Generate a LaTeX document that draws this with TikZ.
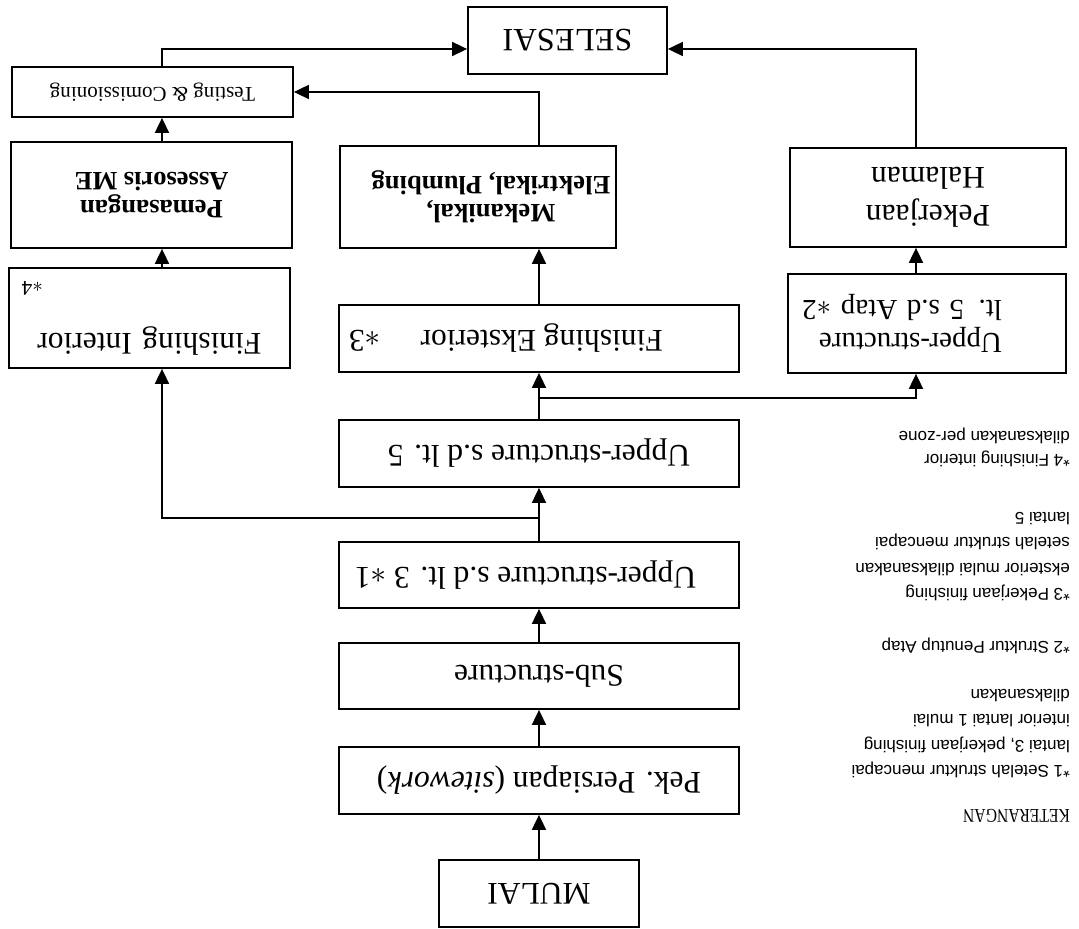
\RequirePackage{fix-cm}
\documentclass[tikz,border=0pt]{standalone}
\usepackage{fontspec}
\usepackage{graphicx}
\setmainfont{Liberation Serif}
\newfontfamily\notefont{Liberation Sans}
\usetikzlibrary{arrows.meta}
\begin{document}
\begin{tikzpicture}[x=1pt,y=1pt,
  box/.style={draw, line width=1.8pt, rectangle, inner sep=0pt, align=center,
    font=\fontsize{31.5}{36}\selectfont},
  arr/.style={line width=1.8pt, -{Triangle[length=15pt,width=14pt]}},
  note/.style={anchor=north west, inner sep=0pt, align=left,
    font=\notefont\fontsize{17}{25.5}\selectfont}]
% the whole sheet is printed upside down
\begin{scope}[rotate=180, transform shape]
\useasboundingbox (0,0) rectangle (1079,-929);

% main chain
\node[box, minimum width=200pt, minimum height=67pt] (mulai) at (540,-35.5) {MULAI};
\node[box, minimum width=400pt, minimum height=67pt] (prep) at (540,-148.5) {Pek. Persiapan (\textit{sitework})};
\node[box, minimum width=400pt, minimum height=66pt] (sub) at (540,-253) {Sub-structure};
\node[box, minimum width=400pt, minimum height=66pt] (up3) at (540,-354) {\hspace*{27pt}Upper-structure s.d lt. 3 $\ast$1};
\node[box, minimum width=400pt, minimum height=67pt] (up5) at (540,-475.5) {Upper-structure s.d lt. 5};
\node[box, minimum width=400pt, minimum height=67pt] (fe) at (540,-590.5) {\hspace*{66pt}Finishing Eksterior\hspace*{40pt}$\ast$3};

% side branches
\node[box, minimum width=281pt, minimum height=100pt, text width=255pt, inner xsep=13pt] (fi) at (929.5,-611)
  {Finishing Interior\\[16pt]\hfill{\fontsize{21}{21}\selectfont$\ast$4}};
\node[box, minimum width=278pt, minimum height=99pt, text width=266pt, inner xsep=6pt, align=left,
  font=\fontsize{29}{33}\selectfont] (atap) at (152,-605.5)
  {\hspace*{58pt}Upper-structure\\\hspace*{58pt}lt. 5 s.d Atap $\ast$2};
\node[box, minimum width=281pt, minimum height=106pt, font=\bfseries\fontsize{26.5}{28}\selectfont] (pem) at (927.5,-734)
  {Pemasangan\\Assesoris ME};
\node[box, minimum width=276pt, minimum height=102pt, font=\bfseries\fontsize{26.5}{28}\selectfont] (mek) at (601,-732)
  {Mekanikal,\hspace*{26pt}\\Elektrikal, Plumbing\hspace*{26pt}};
\node[box, minimum width=276pt, minimum height=99pt, font=\fontsize{31.5}{38}\selectfont] (hal) at (151,-731.5)
  {Pekerjaan\\Halaman};
\node[box, minimum width=281pt, minimum height=50pt, font=\fontsize{21}{24}\selectfont] (test) at (926.5,-837)
  {Testing \& Comissioning};
\node[box, minimum width=199pt, minimum height=67pt, font=\fontsize{32.5}{36}\selectfont] (sel) at (511.5,-888.5) {SELESAI};

% routing helpers
\coordinate (colL) at (917,0);
\coordinate (colR) at (163,0);
\coordinate (j1) at (540,-411);
\coordinate (j2) at (540,-531);
\coordinate (rowS) at (0,-880);

% connectors
\draw[arr] (mulai) -- (prep);
\draw[arr] (prep) -- (sub);
\draw[arr] (sub) -- (up3);
\draw[arr] (up3) -- (up5);
\draw[arr] (up5) -- (fe);
\draw[arr] (j1) -| (fi.north -| colL);
\draw[arr] (j2) -| (atap.north -| colR);
\draw[arr] (fe.south) -- (mek.north -| fe.south);
\draw[arr] (fi.south -| colL) -- (pem.north -| colL);
\draw[arr] (pem.south -| colL) -- (test.north -| colL);
\draw[arr] (atap.south -| colR) -- (hal.north -| colR);
\draw[arr] (mek.south -| fe.south) |- (test.west);
\draw[arr] (test.south -| colL) |- (sel.east |- rowS);
\draw[arr] (hal.south -| colR) |- (sel.west |- rowS);

% legend
\node[anchor=base west, inner sep=0pt] (ket) at (9,-119)
  {\scalebox{0.8}[1]{\fontsize{19.5}{22}\selectfont KETERANGAN}};
\node[note] (n1) at (9,-150.6) {*1 Setelah struktur mencapai\\lantai 3, pekerjaan finishing\\interior lantai 1 mulai\\dilaksanakan};
\node[note] (n2) at (9,-274.6) {*2 Struktur Penutup Atap};
\node[note] (n3) at (9,-327.6) {*3 Pekerjaan finishing\\eksterior mulai dilaksanakan\\setelah struktur mencapai\\lantai 5};
\node[note, font=\notefont\fontsize{17}{23}\selectfont] (n4) at (9,-461.6) {*4 Finishing interior\\dilaksanakan per-zone};
\end{scope}
\end{tikzpicture}
\end{document}
